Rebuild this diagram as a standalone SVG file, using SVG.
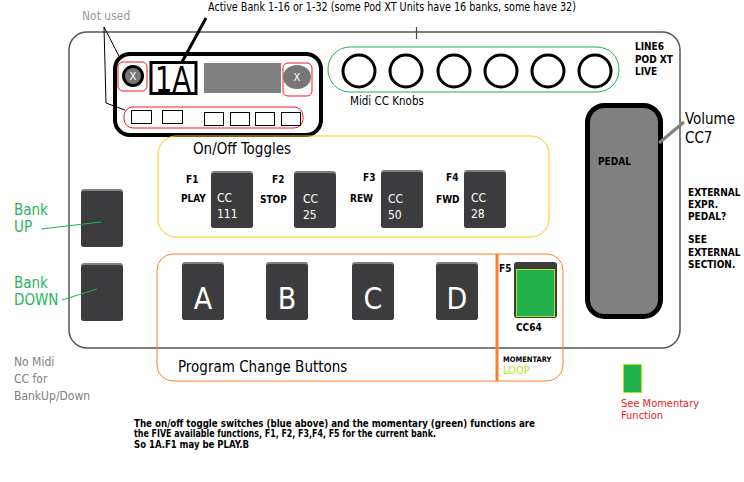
<svg xmlns="http://www.w3.org/2000/svg" width="744" height="482" viewBox="0 0 744 482">
<style>
text{font-family:"DejaVu Sans Condensed","DejaVu Sans","Liberation Sans",sans-serif;font-stretch:condensed}
.b{font-weight:bold;font-size:10px;fill:#000}
.w{fill:#fff;font-size:12px}
.btn{fill:#3c3c3e}
.btnt{fill:#808080}
.knob{fill:none;stroke:#000;stroke-width:3}
.red{fill:none;stroke:#ed1c24;stroke-width:1}
.small{fill:none;stroke:#000;stroke-width:1}
.gr{fill:#27b45a;font-size:15px}
</style>
<rect width="744" height="482" fill="#fff"/>

<g id="body">
<rect x="69" y="32" width="611" height="316" rx="18" fill="none" stroke="#555" stroke-width="1.5"/>
<line x1="416.5" y1="27" x2="416.5" y2="39" stroke="#444" stroke-width="1.2"/>
<text x="635" y="50" class="b">LINE6</text>
<text x="635" y="63" class="b">POD XT</text>
<text x="635" y="75" class="b">LIVE</text>
</g>

<g id="display">
<rect x="115" y="54" width="206" height="81" rx="15" fill="none" stroke="#000" stroke-width="4"/>
<rect x="118" y="62" width="29" height="29" rx="5" class="red"/>
<circle cx="133" cy="76" r="9.5" fill="#777" stroke="#000" stroke-width="3"/>
<text x="133" y="80" text-anchor="middle" fill="#fff" font-size="11">X</text>
<rect x="151" y="62.5" width="45" height="31" fill="none" stroke="#000" stroke-width="3"/>
<text x="155" y="92" font-size="36" textLength="36" lengthAdjust="spacingAndGlyphs" fill="#000">1A</text>
<rect x="204" y="63" width="77" height="30" fill="#808080"/>
<rect x="283" y="63" width="29" height="33" rx="5" class="red"/>
<ellipse cx="297" cy="77" rx="14" ry="12" fill="#777"/>
<text x="297" y="81" text-anchor="middle" fill="#fff" font-size="11">X</text>
<rect x="124" y="107" width="179" height="21" rx="9" class="red"/>
<rect x="131.5" y="110.5" width="20" height="13" class="small"/>
<rect x="162.5" y="110.5" width="20" height="13" class="small"/>
<rect x="204.5" y="112.5" width="19" height="13" class="small"/>
<rect x="230.5" y="112.5" width="19" height="13" class="small"/>
<rect x="255.5" y="112.5" width="19" height="13" class="small"/>
<rect x="281.5" y="112.5" width="19" height="13" class="small"/>
</g>

<g id="labels-top">
<text x="82" y="20" fill="#999" font-size="12">Not used</text>
<text x="208" y="11" font-size="11.5" textLength="368" lengthAdjust="spacingAndGlyphs" fill="#000">Active Bank 1-16 or 1-32 (some Pod XT Units have 16 banks, some have 32)</text>
</g>

<g id="knobs">
<rect x="328" y="47" width="291" height="45" rx="22" fill="none" stroke="#22b14c" stroke-width="1"/>
<circle cx="359" cy="71" r="16" class="knob"/>
<circle cx="406" cy="71" r="16" class="knob"/>
<circle cx="454" cy="71" r="16" class="knob"/>
<circle cx="501" cy="71" r="16" class="knob"/>
<circle cx="548" cy="71" r="16" class="knob"/>
<circle cx="595" cy="71" r="16" class="knob"/>
<text x="350" y="105" font-size="11.5" fill="#000">Midi CC Knobs</text>
</g>

<g id="pedal">
<rect x="587.5" y="105.5" width="73" height="211" rx="17" fill="#808080" stroke="#000" stroke-width="5"/>
<text x="598" y="165" class="b">PEDAL</text>
<text x="685" y="124" font-size="15" fill="#000">Volume</text>
<text x="685" y="143" font-size="15" fill="#000">CC7</text>
<text x="688" y="196" class="b">EXTERNAL</text>
<text x="688" y="208" class="b">EXPR.</text>
<text x="688" y="220" class="b">PEDAL?</text>
<text x="688" y="243" class="b">SEE</text>
<text x="688" y="256" class="b">EXTERNAL</text>
<text x="688" y="268" class="b">SECTION.</text>
</g>

<g id="toggles">
<rect x="158" y="136" width="391" height="101" rx="18" fill="none" stroke="#ffc90e" stroke-width="1"/>
<text x="193" y="154" font-size="15" fill="#000">On/Off Toggles</text>
<rect x="211" y="171" width="42" height="57" rx="3" class="btnt"/>
<rect x="211" y="173" width="42" height="55" rx="3" class="btn"/>
<rect x="294" y="171" width="42" height="57" rx="3" class="btnt"/>
<rect x="294" y="173" width="42" height="55" rx="3" class="btn"/>
<rect x="381" y="170" width="42" height="58" rx="3" class="btnt"/>
<rect x="381" y="172" width="42" height="56" rx="3" class="btn"/>
<rect x="464" y="170" width="42" height="58" rx="3" class="btnt"/>
<rect x="464" y="172" width="42" height="56" rx="3" class="btn"/>
<text x="217" y="202" class="w">CC</text>
<text x="217" y="218" class="w">111</text>
<text x="303" y="203" class="w">CC</text>
<text x="303" y="219" class="w">25</text>
<text x="388" y="203" class="w">CC</text>
<text x="388" y="219" class="w">50</text>
<text x="471" y="202" class="w">CC</text>
<text x="471" y="218" class="w">28</text>
<text x="186" y="183" class="b">F1</text>
<text x="181" y="202" class="b">PLAY</text>
<text x="272" y="183" class="b">F2</text>
<text x="260" y="203" class="b">STOP</text>
<text x="363" y="181" class="b">F3</text>
<text x="350" y="202" class="b">REW</text>
<text x="446" y="181" class="b">F4</text>
<text x="436" y="203" class="b">FWD</text>
</g>

<g id="bank">
<rect x="81" y="189" width="42" height="58" rx="3" class="btnt"/>
<rect x="81" y="191" width="42" height="56" rx="3" class="btn"/>
<rect x="81" y="263" width="42" height="58" rx="3" class="btnt"/>
<rect x="81" y="265" width="42" height="56" rx="3" class="btn"/>
<text x="14" y="215" class="gr">Bank</text>
<text x="14" y="232" class="gr">UP</text>
<text x="14" y="288" class="gr">Bank</text>
<text x="14" y="305" class="gr">DOWN</text>
<text x="14" y="366" fill="#808080" font-size="12">No Midi</text>
<text x="14" y="383" fill="#808080" font-size="12">CC for</text>
<text x="14" y="400" fill="#808080" font-size="12">BankUp/Down</text>
</g>

<g id="program">
<rect x="157" y="254" width="406" height="127" rx="16" fill="none" stroke="#ff7f27" stroke-width="1"/>
<line x1="497" y1="254" x2="497" y2="381" stroke="#ff7f27" stroke-width="3"/>
<rect x="182" y="262" width="42" height="58" rx="3" class="btnt"/>
<rect x="182" y="264" width="42" height="56" rx="3" class="btn"/>
<rect x="266" y="262" width="42" height="58" rx="3" class="btnt"/>
<rect x="266" y="264" width="42" height="56" rx="3" class="btn"/>
<rect x="352" y="262" width="42" height="58" rx="3" class="btnt"/>
<rect x="352" y="264" width="42" height="56" rx="3" class="btn"/>
<rect x="436" y="262" width="42" height="58" rx="3" class="btnt"/>
<rect x="436" y="264" width="42" height="56" rx="3" class="btn"/>
<text x="203" y="309" text-anchor="middle" fill="#fff" font-size="30">A</text>
<text x="287" y="309" text-anchor="middle" fill="#fff" font-size="30">B</text>
<text x="373" y="309" text-anchor="middle" fill="#fff" font-size="30">C</text>
<text x="457" y="309" text-anchor="middle" fill="#fff" font-size="30">D</text>
<text x="178" y="372" font-size="15" fill="#000">Program Change Buttons</text>
</g>

<g id="f5">
<text x="499" y="272" class="b">F5</text>
<rect x="514" y="262" width="43" height="56" rx="3" class="btn"/>
<rect x="516.5" y="269.5" width="38" height="47" fill="#22b14c" stroke="#b5e61d" stroke-width="1"/>
<text x="516" y="331" class="b">CC64</text>
<text x="503" y="362" font-size="7.5" font-weight="bold" fill="#000">MOMENTARY</text>
<text x="503" y="374" font-size="11" fill="#b5e61d">LOOP</text>
</g>

<g id="legend">
<rect x="623.5" y="364.5" width="18" height="28" fill="#22b14c" stroke="#b5e61d" stroke-width="1"/>
<text x="621" y="407" fill="#ed1c24" font-size="11">See Momentary</text>
<text x="621" y="419" fill="#ed1c24" font-size="11">Function</text>
</g>

<g id="note">
<text x="134" y="427" class="b" textLength="401" lengthAdjust="spacingAndGlyphs">The on/off toggle switches (blue above) and the momentary (green) functions are</text>
<text x="134" y="437" class="b" textLength="302" lengthAdjust="spacingAndGlyphs">the FIVE available functions, F1, F2, F3,F4, F5 for the current bank.</text>
<text x="134" y="448" class="b" textLength="115" lengthAdjust="spacingAndGlyphs">So 1A.F1 may be PLAY.B</text>
</g>

<g id="connectors">
<line x1="206" y1="18" x2="182" y2="62" stroke="#000" stroke-width="3"/>
<polyline points="104,27 120,58" fill="none" stroke="#000" stroke-width="1"/>
<polyline points="104,27 106,103 125,110" fill="none" stroke="#000" stroke-width="1"/>
<line x1="659" y1="143" x2="684" y2="122" stroke="#808080" stroke-width="3"/>
<line x1="41" y1="229" x2="101" y2="222" stroke="#22b14c" stroke-width="1"/>
<line x1="62" y1="300" x2="97" y2="289" stroke="#22b14c" stroke-width="1"/>
</g>
</svg>
